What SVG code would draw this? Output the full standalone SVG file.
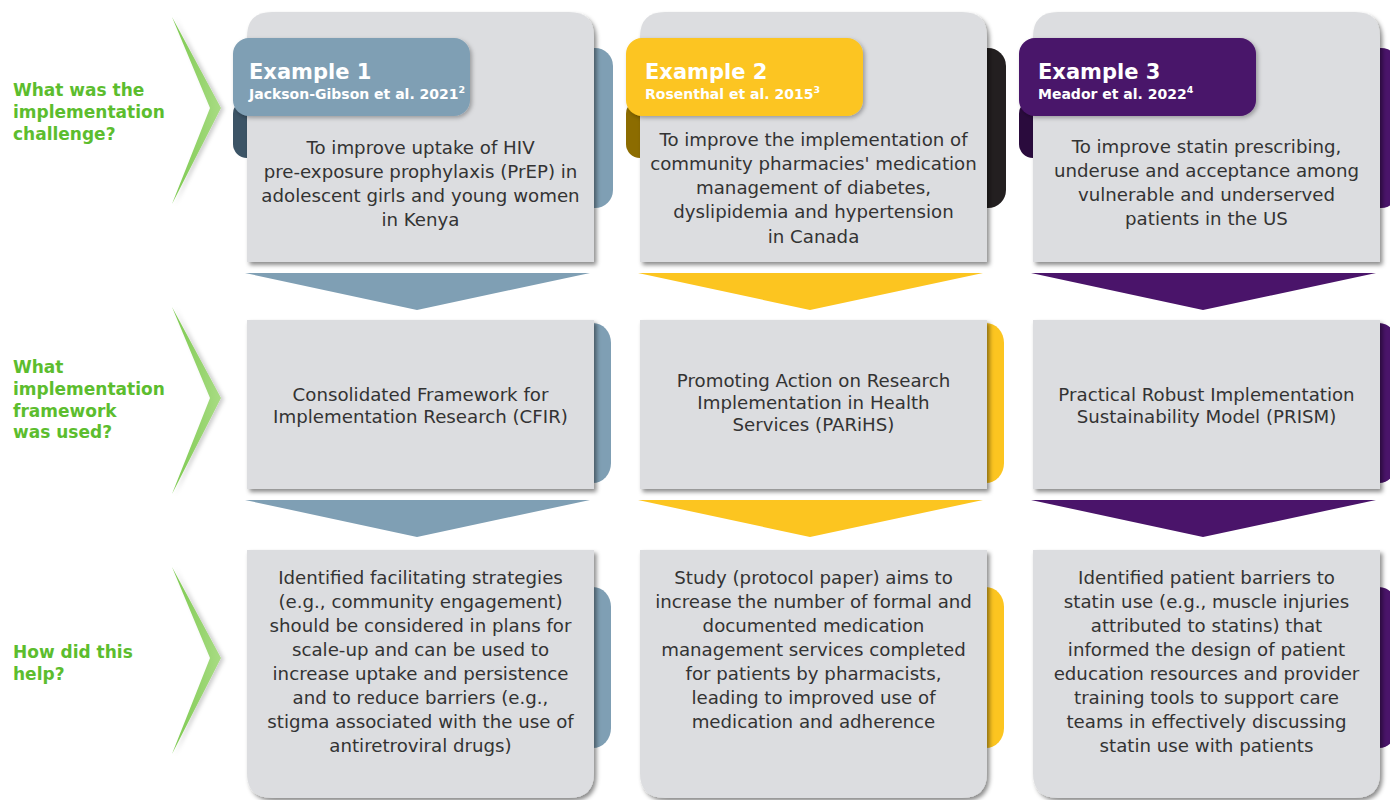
<svg xmlns="http://www.w3.org/2000/svg" width="1390" height="800" viewBox="0 0 1390 800">
<style>
.lbl{font-family:"DejaVu Sans","Liberation Sans",sans-serif;font-weight:bold;font-size:17px;fill:#5cbd2e}
.body{font-family:"DejaVu Sans","Liberation Sans",sans-serif;font-size:18.2px;fill:#333333;text-anchor:middle}
.h1{font-family:"DejaVu Sans","Liberation Sans",sans-serif;font-weight:bold;font-size:21px;fill:#ffffff}
.h2{font-family:"DejaVu Sans","Liberation Sans",sans-serif;font-weight:bold;font-size:14px;fill:#ffffff}
.card{fill:#dcdde0;filter:url(#sh)}
.hdr{filter:url(#sh2)}
.c1{fill:#7f9fb4}.c1d{fill:#3c5466}
.c2{fill:#fcc520}.c2d{fill:#8c6c00}.c2k{fill:#231f20}
.c3{fill:#4a146a}.c3d{fill:#2a0b3d}
</style>
<defs>
<filter id="sh" x="-10%" y="-10%" width="125%" height="125%">
<feDropShadow dx="2.5" dy="3" stdDeviation="2" flood-color="#000" flood-opacity="0.45"/>
</filter>
<filter id="sh2" x="-10%" y="-10%" width="125%" height="130%">
<feDropShadow dx="2" dy="2" stdDeviation="2" flood-color="#000" flood-opacity="0.3"/>
</filter>
<filter id="chsh" x="-50%" y="-10%" width="200%" height="120%">
<feDropShadow dx="3" dy="1" stdDeviation="2" flood-color="#000" flood-opacity="0.2"/>
</filter>
<linearGradient id="gr" x1="0" y1="0" x2="1" y2="0">
<stop offset="0" stop-color="#7cc94f"/>
<stop offset="1" stop-color="#a9dc84"/>
</linearGradient>
<path id="chev" d="M0,0 L49,91 L0,187 L38,91 Z"/>
</defs>

<g id="row-labels">
<g id="label-challenge">
<use href="#chev" x="172" y="17" fill="url(#gr)" filter="url(#chsh)"/>
<text class="lbl" x="13" y="96">What was the</text>
<text class="lbl" x="13" y="118">implementation</text>
<text class="lbl" x="13" y="140">challenge?</text>
</g>
<g id="label-framework">
<use href="#chev" x="172" y="307" fill="url(#gr)" filter="url(#chsh)"/>
<text class="lbl" x="13" y="373">What</text>
<text class="lbl" x="13" y="395">implementation</text>
<text class="lbl" x="13" y="417">framework</text>
<text class="lbl" x="13" y="438">was used?</text>
</g>
<g id="label-help">
<use href="#chev" x="172" y="567" fill="url(#gr)" filter="url(#chsh)"/>
<text class="lbl" x="13" y="658">How did this</text>
<text class="lbl" x="13" y="680">help?</text>
</g>
</g>

<g id="connectors">
<polygon class="c1" points="245,273 590,273 417,310"/>
<polygon class="c1" points="245,500 590,500 417,537"/>
<polygon class="c2" points="638,273 983,273 810,310"/>
<polygon class="c2" points="638,500 983,500 810,537"/>
<polygon class="c3" points="1031,273 1376,273 1203,310"/>
<polygon class="c3" points="1031,500 1376,500 1203,537"/>
</g>

<!-- Column 1 -->
<g id="ex1-challenge">
<rect class="c1" x="575" y="48" width="38" height="160" rx="18"/>
<rect class="c1d" x="233" y="100" width="30" height="58" rx="14"/>
<path class="card" d="M247,262 V37 Q247,12 272,12 H569 Q594,12 594,37 V262 Z"/>
<rect class="c1 hdr" x="233" y="38" width="237" height="78" rx="16"/>
<text class="h1" x="249" y="79">Example 1</text>
<text class="h2" x="249" y="99">Jackson-Gibson et al. 2021<tspan font-size="9.5" dy="-6">2</tspan></text>
<text class="body"><tspan x="420.5" y="154">To improve uptake of HIV</tspan><tspan x="420.5" y="178">pre-exposure prophylaxis (PrEP) in</tspan><tspan x="420.5" y="202">adolescent girls and young women</tspan><tspan x="420.5" y="226">in Kenya</tspan></text>
</g>
<g id="ex1-framework">
<rect class="c1" x="575" y="323" width="36" height="160" rx="20"/>
<rect class="card" x="247" y="320" width="347" height="169"/>
<text class="body"><tspan x="420.5" y="401">Consolidated Framework for</tspan><tspan x="420.5" y="423">Implementation Research (CFIR)</tspan></text>
</g>
<g id="ex1-help">
<rect class="c1" x="575" y="587" width="36" height="161" rx="20"/>
<path class="card" d="M247,550 H594 V773 Q594,798 569,798 H272 Q247,798 247,773 Z"/>
<text class="body"><tspan x="420.5" y="584">Identified facilitating strategies</tspan><tspan x="420.5" y="608">(e.g., community engagement)</tspan><tspan x="420.5" y="632">should be considered in plans for</tspan><tspan x="420.5" y="656">scale-up and can be used to</tspan><tspan x="420.5" y="680">increase uptake and persistence</tspan><tspan x="420.5" y="704">and to reduce barriers (e.g.,</tspan><tspan x="420.5" y="728">stigma associated with the use of</tspan><tspan x="420.5" y="752">antiretroviral drugs)</tspan></text>
</g>

<!-- Column 2 -->
<g id="ex2-challenge">
<rect class="c2k" x="968" y="48" width="38" height="160" rx="18"/>
<rect class="c2d" x="626" y="100" width="30" height="58" rx="14"/>
<path class="card" d="M640,262 V37 Q640,12 665,12 H962 Q987,12 987,37 V262 Z"/>
<rect class="c2 hdr" x="626" y="38" width="237" height="78" rx="16"/>
<text class="h1" x="645" y="79">Example 2</text>
<text class="h2" x="645" y="99">Rosenthal et al. 2015<tspan font-size="9.5" dy="-6">3</tspan></text>
<text class="body"><tspan x="813.5" y="146">To improve the implementation of</tspan><tspan x="813.5" y="170">community pharmacies' medication</tspan><tspan x="813.5" y="194">management of diabetes,</tspan><tspan x="813.5" y="218">dyslipidemia and hypertension</tspan><tspan x="813.5" y="243">in Canada</tspan></text>
</g>
<g id="ex2-framework">
<rect class="c2" x="968" y="323" width="36" height="160" rx="20"/>
<rect class="card" x="640" y="320" width="347" height="169"/>
<text class="body"><tspan x="813.5" y="387">Promoting Action on Research</tspan><tspan x="813.5" y="409">Implementation in Health</tspan><tspan x="813.5" y="431">Services (PARiHS)</tspan></text>
</g>
<g id="ex2-help">
<rect class="c2" x="968" y="587" width="36" height="161" rx="20"/>
<path class="card" d="M640,550 H987 V773 Q987,798 962,798 H665 Q640,798 640,773 Z"/>
<text class="body"><tspan x="813.5" y="584">Study (protocol paper) aims to</tspan><tspan x="813.5" y="608">increase the number of formal and</tspan><tspan x="813.5" y="632">documented medication</tspan><tspan x="813.5" y="656">management services completed</tspan><tspan x="813.5" y="680">for patients by pharmacists,</tspan><tspan x="813.5" y="704">leading to improved use of</tspan><tspan x="813.5" y="728">medication and adherence</tspan></text>
</g>

<!-- Column 3 -->
<g id="ex3-challenge">
<rect class="c3" x="1361" y="48" width="38" height="160" rx="18"/>
<rect class="c3d" x="1019" y="100" width="30" height="58" rx="14"/>
<path class="card" d="M1033,262 V37 Q1033,12 1058,12 H1355 Q1380,12 1380,37 V262 Z"/>
<rect class="c3 hdr" x="1019" y="38" width="237" height="78" rx="16"/>
<text class="h1" x="1038" y="79">Example 3</text>
<text class="h2" x="1038" y="99">Meador et al. 2022<tspan font-size="9.5" dy="-6">4</tspan></text>
<text class="body"><tspan x="1206.5" y="153">To improve statin prescribing,</tspan><tspan x="1206.5" y="177">underuse and acceptance among</tspan><tspan x="1206.5" y="201">vulnerable and underserved</tspan><tspan x="1206.5" y="225">patients in the US</tspan></text>
</g>
<g id="ex3-framework">
<rect class="c3" x="1361" y="323" width="36" height="160" rx="20"/>
<rect class="card" x="1033" y="320" width="347" height="169"/>
<text class="body"><tspan x="1206.5" y="401">Practical Robust Implementation</tspan><tspan x="1206.5" y="423">Sustainability Model (PRISM)</tspan></text>
</g>
<g id="ex3-help">
<rect class="c3" x="1361" y="587" width="36" height="161" rx="20"/>
<path class="card" d="M1033,550 H1380 V773 Q1380,798 1355,798 H1058 Q1033,798 1033,773 Z"/>
<text class="body"><tspan x="1206.5" y="584">Identified patient barriers to</tspan><tspan x="1206.5" y="608">statin use (e.g., muscle injuries</tspan><tspan x="1206.5" y="632">attributed to statins) that</tspan><tspan x="1206.5" y="656">informed the design of patient</tspan><tspan x="1206.5" y="680">education resources and provider</tspan><tspan x="1206.5" y="704">training tools to support care</tspan><tspan x="1206.5" y="728">teams in effectively discussing</tspan><tspan x="1206.5" y="752">statin use with patients</tspan></text>
</g>
</svg>
